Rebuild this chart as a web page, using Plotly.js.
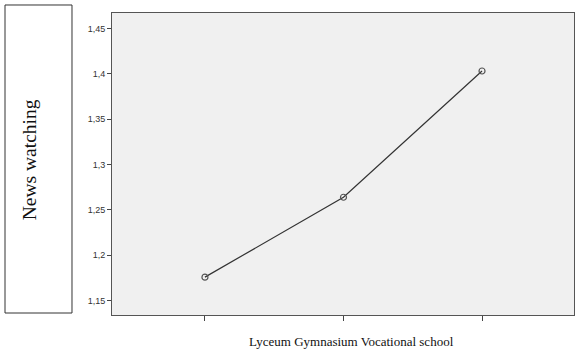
<!DOCTYPE html>
<html>
<head>
<meta charset="utf-8">
<script src="https://cdn.plot.ly/plotly-3.0.1.min.js"></script>
<style>html,body{margin:0;padding:0;background:#fff;}#chart{width:580px;height:354px;}</style>
</head>
<body>
<div id="chart"></div>
<script>
const categories = ['Lyceum', 'Gymnasium', 'Vocational school'];
const newsWatching = [1.176, 1.264, 1.403];
const yTicks = [1.15, 1.2, 1.25, 1.3, 1.35, 1.4, 1.45];
const yLabel = 'News watching';

const trace = {
  x: categories,
  y: newsWatching,
  type: 'scatter',
  mode: 'lines+markers',
  line: {color: '#333333', width: 1.2},
  marker: {symbol: 'circle-open', size: 6, color: '#555555', line: {width: 1.2}},
  hoverinfo: 'skip'
};

const layout = {
  width: 580, height: 354,
  margin: {l: 112, r: 6, t: 13, b: 39},
  paper_bgcolor: '#ffffff',
  plot_bgcolor: '#f0f0f0',
  separators: ', ',
  showlegend: false,
  xaxis: {
    type: 'category',
    range: [-0.671, 2.664],
    showticklabels: false,
    ticks: 'outside', ticklen: 5, tickcolor: '#444',
    showgrid: false, zeroline: false,
    showline: true, linecolor: '#555', linewidth: 1, mirror: true
  },
  yaxis: {
    range: [1.1343, 1.4669],
    tickvals: yTicks,
    ticks: 'outside', ticklen: 4, tickcolor: '#444',
    tickfont: {family: 'Liberation Sans, Arial, sans-serif', size: 9, color: '#333'},
    showgrid: false, zeroline: false,
    showline: true, linecolor: '#555', linewidth: 1, mirror: true
  },
  shapes: [{
    type: 'rect', xref: 'paper', yref: 'paper',
    x0: -0.2316, x1: -0.0866, y0: 0.0066, y1: 1.0265,
    line: {color: '#333', width: 1}, fillcolor: 'rgba(0,0,0,0)'
  }],
  annotations: [{
    text: yLabel, xref: 'paper', yref: 'paper',
    x: -0.2056, y: 0.514, textangle: -90, showarrow: false,
    font: {family: 'Liberation Serif, Times New Roman, serif', size: 19.5, color: '#111'}
  }, {
    text: categories.join(' '), xref: 'paper', yref: 'paper',
    x: 0.519, y: -0.0894, showarrow: false, yanchor: 'middle',
    font: {family: 'Liberation Serif, Times New Roman, serif', size: 13, color: '#111'}
  }]
};

Plotly.newPlot('chart', [trace], layout, {displayModeBar: false, staticPlot: true});
</script>
</body>
</html>
